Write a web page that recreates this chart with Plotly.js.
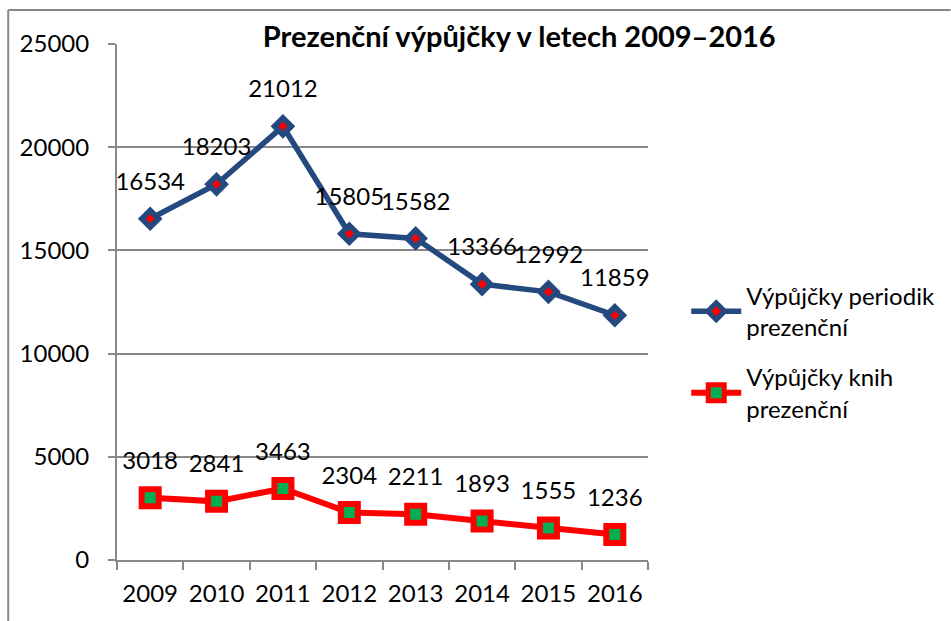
<!DOCTYPE html>
<html><head><meta charset="utf-8">
<script src="https://cdn.plot.ly/plotly-3.0.1.min.js"></script>
<style>html,body{margin:0;padding:0;background:#fff}#chart{width:951px;height:621px}</style>
</head><body><div id="chart"></div>
<script>
const years = ["2009","2010","2011","2012","2013","2014","2015","2016"];
const periodik = [16534,18203,21012,15805,15582,13366,12992,11859];
const knihy = [3018,2841,3463,2304,2211,1893,1555,1236];
const seriesNames = ["Výpůjčky periodik<br>prezenční","Výpůjčky knih<br>prezenční"];
const titleText = "Prezenční výpůjčky v letech 2009–2016";

const FONT = "Lato, 'Open Sans', sans-serif";
const BLUE = "#24497E", RED = "#FF0000", GREEN = "#00B050";

function labelTrace(vals) {
  return {x: years, y: vals, type: "scatter", mode: "markers+text", showlegend: false, hoverinfo: "skip",
    text: vals.map(String), textposition: "top center",
    textfont: {family: FONT, size: 24, color: "#000"},
    marker: {size: 35, color: "rgba(0,0,0,0)", line: {width: 0}}, cliponaxis: false};
}

const traces = [
  {x: years, y: periodik, name: seriesNames[0], legendgroup: "a", type: "scatter", mode: "lines+markers",
   line: {color: BLUE, width: 5.5}, cliponaxis: false,
   marker: {symbol: "diamond", size: 13, color: RED, line: {color: BLUE, width: 5.5}}},
  {x: years, y: knihy, name: seriesNames[1], legendgroup: "b", type: "scatter", mode: "lines+markers",
   line: {color: RED, width: 6}, cliponaxis: false,
   marker: {symbol: "square", size: 17, color: GREEN, line: {color: RED, width: 6}}},
  labelTrace(periodik),
  labelTrace(knihy)
];

const layout = {
  width: 951, height: 621,
  margin: {l: 117, r: 302, t: 44, b: 61},
  paper_bgcolor: "#fff", plot_bgcolor: "#fff",
  font: {family: FONT, size: 24, color: "#000"},
  title: {text: "<b>" + titleText + "</b>", x: 0.546, xanchor: "center", y: 0.94, yanchor: "middle",
    yref: "container", font: {family: FONT, size: 29, color: "#000"}},
  xaxis: {type: "category", range: [-0.5, 7.5], showgrid: false, showline: true, linecolor: "#888", linewidth: 2,
    ticks: "outside", tickson: "boundaries", ticklen: 8, tickcolor: "#888", tickwidth: 2,
    ticklabelstandoff: 11, tickfont: {family: FONT, size: 24}},
  yaxis: {range: [0, 25000], dtick: 5000, tickformat: "d", showgrid: true, gridcolor: "#888", gridwidth: 1.5,
    showline: true, linecolor: "#888", linewidth: 2, ticks: "outside", ticklen: 7, tickcolor: "#888", tickwidth: 2,
    ticklabelstandoff: 14, zeroline: false, tickfont: {family: FONT, size: 24}},
  legend: {x: 1.07, xanchor: "left", y: 0.403, yanchor: "middle", font: {family: FONT, size: 24},
    itemwidth: 50, tracegroupgap: 16, bgcolor: "rgba(0,0,0,0)"},
  showlegend: true,
  shapes: [
    {type: "line", xref: "paper", yref: "paper", x0: -0.2049, x1: 1.57, y0: 1.0659, y1: 1.0659, line: {color: "#888", width: 2}},
    {type: "line", xref: "paper", yref: "paper", x0: -0.2049, x1: -0.2049, y0: 1.0659, y1: -0.13, line: {color: "#888", width: 2}}
  ]
};

Plotly.newPlot("chart", traces, layout, {displayModeBar: false});
</script></body></html>
